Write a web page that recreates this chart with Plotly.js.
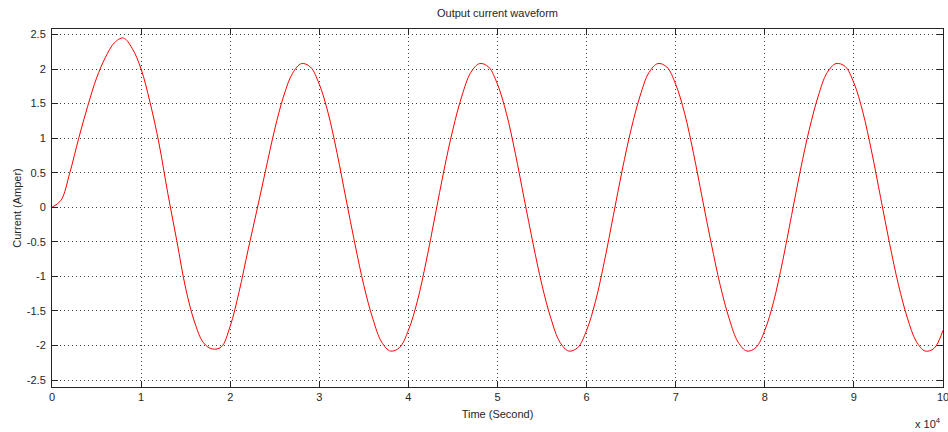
<!DOCTYPE html>
<html>
<head>
<meta charset="utf-8">
<script src="https://cdn.plot.ly/plotly-3.0.1.min.js"></script>
<style>
  html, body { margin: 0; padding: 0; background: #ffffff; }
  #chart { width: 948px; height: 432px; }
</style>
</head>
<body>
<div id="chart"></div>
<script>
// Time axis values (in units of 10^4 s)
const timeValues = [
  0.0, 0.1, 0.2, 0.3, 0.4, 0.5, 0.6, 0.7, 0.8, 0.9,
  1.0, 1.1, 1.2, 1.3, 1.4, 1.5, 1.6, 1.7, 1.8, 1.9,
  2.0, 2.1, 2.2, 2.3, 2.4, 2.5, 2.6, 2.7, 2.8, 2.9,
  3.0, 3.1, 3.2, 3.3, 3.4, 3.5, 3.6, 3.7, 3.8, 3.9,
  4.0, 4.1, 4.2, 4.3, 4.4, 4.5, 4.6, 4.7, 4.8, 4.9,
  5.0, 5.1, 5.2, 5.3, 5.4, 5.5, 5.6, 5.7, 5.8, 5.9,
  6.0, 6.1, 6.2, 6.3, 6.4, 6.5, 6.6, 6.7, 6.8, 6.9,
  7.0, 7.1, 7.2, 7.3, 7.4, 7.5, 7.6, 7.7, 7.8, 7.9,
  8.0, 8.1, 8.2, 8.3, 8.4, 8.5, 8.6, 8.7, 8.8, 8.9,
  9.0, 9.1, 9.2, 9.3, 9.4, 9.5, 9.6, 9.7, 9.8, 9.9,
  10.0
];

// Output current (Amper)
const currentValues = [
  0.00, 0.10, 0.50, 1.00, 1.46, 1.87, 2.17, 2.38, 2.45, 2.30,
  2.00, 1.52, 0.93, 0.20, -0.48, -1.17, -1.66, -1.96, -2.05, -2.02,
  -1.72, -1.22, -0.62, -0.04, 0.55, 1.13, 1.61, 1.94, 2.08, 2.03,
  1.78, 1.36, 0.78, 0.12, -0.53, -1.13, -1.61, -1.95, -2.08, -2.03,
  -1.78, -1.36, -0.78, -0.12, 0.54, 1.13, 1.61, 1.95, 2.08, 2.03,
  1.78, 1.36, 0.78, 0.12, -0.53, -1.13, -1.61, -1.95, -2.08, -2.03,
  -1.78, -1.36, -0.78, -0.12, 0.54, 1.13, 1.61, 1.95, 2.08, 2.03,
  1.78, 1.36, 0.78, 0.12, -0.53, -1.13, -1.61, -1.95, -2.08, -2.03,
  -1.78, -1.36, -0.78, -0.12, 0.54, 1.13, 1.61, 1.95, 2.08, 2.04,
  1.80, 1.38, 0.80, 0.14, -0.52, -1.12, -1.60, -1.94, -2.08, -2.04,
  -1.78
];

const xTickValues = [0, 1, 2, 3, 4, 5, 6, 7, 8, 9, 10];
const xTickLabels = ["0", "1", "2", "3", "4", "5", "6", "7", "8", "9", "10"];
const yTickValues = [2.5, 2, 1.5, 1, 0.5, 0, -0.5, -1, -1.5, -2, -2.5];
const yTickLabels = ["2.5", "2", "1.5", "1", "0.5", "0", "-0.5", "-1", "-1.5", "-2", "-2.5"];

const FONT = "Liberation Sans, Arial, Helvetica, sans-serif";
const AXIS_COLOR = "#262626";

const trace = {
  x: timeValues,
  y: currentValues,
  type: "scatter",
  mode: "lines",
  line: { color: "#ff0000", width: 1, shape: "spline", smoothing: 1 },
  hoverinfo: "x+y"
};

const commonAxis = {
  showline: true,
  linecolor: AXIS_COLOR,
  linewidth: 1,
  mirror: "ticks",
  ticks: "inside",
  ticklen: 6,
  tickwidth: 1,
  tickcolor: AXIS_COLOR,
  showgrid: true,
  gridcolor: "#3a3a3a",
  gridwidth: 1,
  griddash: "1px,3px",
  zeroline: false,
  ticklabeloverflow: "allow",
  tickfont: { family: FONT, size: 11, color: "#262626" }
};

const layout = {
  width: 948,
  height: 432,
  margin: { l: 52, r: 5, t: 29, b: 45, pad: 0 },
  paper_bgcolor: "#ffffff",
  plot_bgcolor: "#ffffff",
  showlegend: false,
  title: {
    text: "Output current waveform",
    font: { family: FONT, size: 11, color: "#262626" },
    x: 0.5, xref: "paper",
    y: 1 - 13 / 432, yref: "container", yanchor: "middle"
  },
  xaxis: Object.assign({}, commonAxis, {
    range: [0, 10],
    tickmode: "array",
    tickvals: xTickValues,
    ticktext: xTickLabels,
    title: { text: "Time (Second)", font: { family: FONT, size: 11, color: "#262626" }, standoff: 8 }
  }),
  yaxis: Object.assign({}, commonAxis, {
    range: [-2.6, 2.58],
    tickmode: "array",
    tickvals: yTickValues,
    ticktext: yTickLabels,
    ticklabelstandoff: 3,
    title: { text: "Current (Amper)", font: { family: FONT, size: 11, color: "#262626" }, standoff: 2 }
  }),
  annotations: [
    {
      text: "x 10<sup>4</sup>",
      xref: "paper", yref: "paper",
      x: 1, y: -0.1,
      xanchor: "right", yanchor: "middle",
      showarrow: false,
      font: { family: FONT, size: 11, color: "#262626" }
    }
  ]
};

Plotly.newPlot("chart", [trace], layout, { displayModeBar: false });
</script>
</body>
</html>
